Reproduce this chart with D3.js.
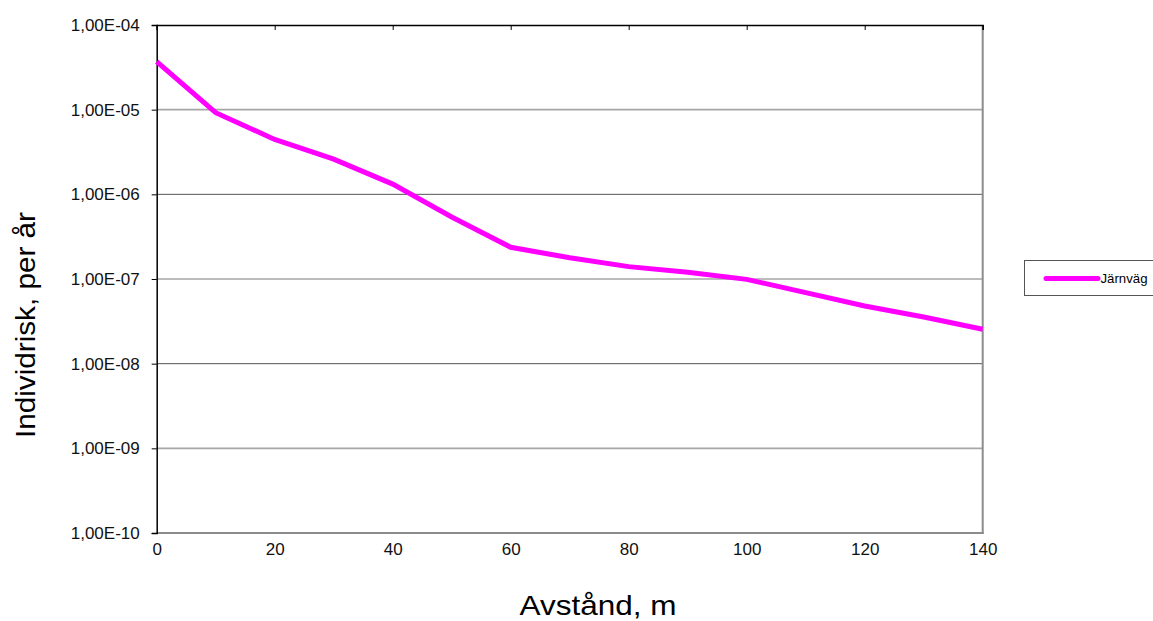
<!DOCTYPE html>
<html>
<head>
<meta charset="utf-8">
<script src="https://cdn.jsdelivr.net/npm/d3@7"></script>
<style>
  html, body { margin: 0; padding: 0; background: #fff; }
  svg { display: block; font-family: "Liberation Sans", Arial, sans-serif; }
</style>
</head>
<body>
<svg id="chart" width="1153" height="621"></svg>
<script>
const distances = [0, 10, 20, 30, 40, 50, 60, 70, 80, 90, 100, 110, 120, 130, 140];
const riskJarnvag = [3.7e-5, 9.2e-6, 4.45e-6, 2.6e-6, 1.32e-6, 5.4e-7, 2.37e-7, 1.78e-7, 1.4e-7, 1.2e-7, 9.9e-8, 6.9e-8, 4.8e-8, 3.55e-8, 2.55e-8];
const seriesName = "Järnväg";
const yTickValues = [1e-4, 1e-5, 1e-6, 1e-7, 1e-8, 1e-9, 1e-10];
const yTickLabels = ["1,00E-04", "1,00E-05", "1,00E-06", "1,00E-07", "1,00E-08", "1,00E-09", "1,00E-10"];
const xTickValues = [0, 20, 40, 60, 80, 100, 120, 140];
const xTitle = "Avstånd, m";
const yTitle = "Individrisk, per år";

const svg = d3.select("#chart");
const L = 156.7, R = 982.7, T = 25, B = 533;

const x = d3.scaleLinear().domain([0, 140]).range([L, R]);
const y = d3.scaleLog().domain([1e-10, 1e-4]).range([B, T]);

// gridlines
const grid = svg.append("g");
yTickValues.slice(1, -1).forEach((v, i) => {
  grid.append("line")
    .attr("x1", L).attr("x2", R)
    .attr("y1", y(v)).attr("y2", y(v))
    .attr("stroke", i % 2 === 0 ? "#a6a6a6" : "#555")
    .attr("stroke-width", i % 2 === 0 ? 1.6 : 1);
});

// plot area border: right and bottom gray
svg.append("line").attr("x1", R).attr("x2", R).attr("y1", T).attr("y2", B + 1)
  .attr("stroke", "#8c8c8c").attr("stroke-width", 2);
svg.append("line").attr("x1", L).attr("x2", R + 1).attr("y1", B).attr("y2", B)
  .attr("stroke", "#8c8c8c").attr("stroke-width", 2);

// y axis (left)
const yAxis = d3.axisLeft(y)
  .tickValues(yTickValues)
  .tickFormat((d, i) => yTickLabels[i])
  .tickSize(5)
  .tickPadding(12);
const gy = svg.append("g").attr("transform", `translate(${L},0)`).call(yAxis);
gy.select(".domain").attr("stroke", "#000").attr("stroke-width", 1.5);
gy.selectAll(".tick line").attr("stroke", "#000");
gy.selectAll(".tick text").attr("font-size", 17).attr("fill", "#111")
  .attr("font-family", "'Liberation Sans', Arial, sans-serif");

// x axis line at top with inward ticks
const xAxisTop = d3.axisTop(x).tickValues(xTickValues).tickSize(-5).tickFormat("");
const gxt = svg.append("g").attr("transform", `translate(0,${T})`).call(xAxisTop);
gxt.select(".domain").attr("stroke", "#000").attr("stroke-width", 1.5);
gxt.selectAll(".tick line").attr("stroke", "#000");

// x labels at bottom
const xAxisBottom = d3.axisBottom(x).tickValues(xTickValues).tickSize(0).tickPadding(10);
const gxb = svg.append("g").attr("transform", `translate(0,${B})`).call(xAxisBottom);
gxb.select(".domain").remove();
gxb.selectAll(".tick text").attr("font-size", 17).attr("fill", "#111")
  .attr("font-family", "'Liberation Sans', Arial, sans-serif");

// line
const line = d3.line().x((d, i) => x(distances[i])).y(d => y(d));
svg.append("path")
  .datum(riskJarnvag)
  .attr("d", line)
  .attr("fill", "none")
  .attr("stroke", "#ff00ff")
  .attr("stroke-width", 5)
  .attr("stroke-linejoin", "miter");

// titles
svg.append("text")
  .attr("x", 598).attr("y", 615)
  .attr("text-anchor", "middle")
  .attr("font-size", 28)
  .attr("textLength", 157)
  .attr("lengthAdjust", "spacingAndGlyphs")
  .attr("fill", "#000")
  .text(xTitle);
svg.append("text")
  .attr("transform", "translate(35,325) rotate(-90)")
  .attr("text-anchor", "middle")
  .attr("font-size", 27)
  .attr("textLength", 226)
  .attr("lengthAdjust", "spacingAndGlyphs")
  .attr("fill", "#000")
  .text(yTitle);

// legend
const lg = svg.append("g");
lg.append("rect")
  .attr("x", 1024.5).attr("y", 260.5).attr("width", 140).attr("height", 35)
  .attr("fill", "#fff").attr("stroke", "#555").attr("stroke-width", 1);
lg.append("line")
  .attr("x1", 1046).attr("x2", 1098).attr("y1", 278.5).attr("y2", 278.5)
  .attr("stroke", "#ff00ff").attr("stroke-width", 5).attr("stroke-linecap", "round");
lg.append("text")
  .attr("x", 1100.5).attr("y", 283)
  .attr("font-size", 13.5)
  .attr("textLength", 47)
  .attr("lengthAdjust", "spacingAndGlyphs")
  .attr("fill", "#000")
  .text(seriesName);
</script>
</body>
</html>
